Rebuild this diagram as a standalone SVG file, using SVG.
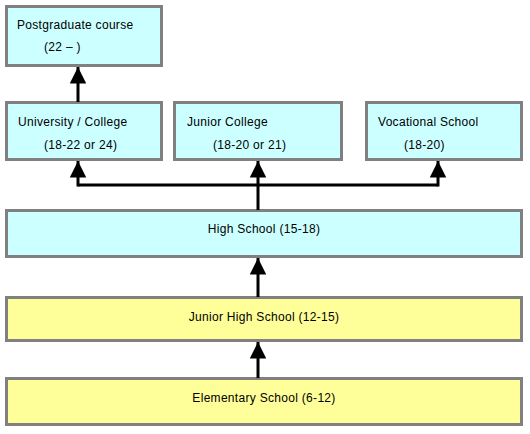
<svg xmlns="http://www.w3.org/2000/svg" width="530" height="434" viewBox="0 0 530 434">
<defs>
<style>
.c{fill:#ccffff;stroke:#808080;stroke-width:3}
.y{fill:#ffff99;stroke:#808080;stroke-width:3}
text{font-family:"Liberation Sans",Arial,sans-serif;font-size:12px;letter-spacing:0.3px;fill:#000}
.m{text-anchor:middle}
.ln{fill:none;stroke:#000;stroke-width:3}
</style>
<marker id="ah" viewBox="0 0 10 10" refX="10" refY="5" markerWidth="5.5" markerHeight="5.5" markerUnits="strokeWidth" orient="auto">
<path d="M0,0 L10,5 L0,10 Z" fill="#000"/>
</marker>
</defs>
<rect width="530" height="434" fill="#fff"/>
<g id="postgrad"><rect class="c" x="6.5" y="6.5" width="155" height="59"/><text x="17" y="29">Postgraduate course</text><text x="44" y="51">(22 – )</text></g>
<g id="university"><rect class="c" x="6.5" y="102.5" width="155" height="57"/><text x="18" y="126">University / College</text><text x="44" y="149">(18-22 or 24)</text></g>
<g id="juniorcollege"><rect class="c" x="174.5" y="102.5" width="167" height="57"/><text x="187" y="126">Junior College</text><text x="213" y="149">(18-20 or 21)</text></g>
<g id="vocational"><rect class="c" x="366.5" y="102.5" width="155" height="57"/><text x="378" y="126">Vocational School</text><text x="404" y="149">(18-20)</text></g>
<g id="highschool"><rect class="c" x="6.5" y="210.5" width="515" height="46"/><text class="m" x="264" y="233">High School (15-18)</text></g>
<g id="juniorhigh"><rect class="y" x="6.5" y="297.5" width="515" height="43"/><text class="m" x="264" y="321">Junior High School (12-15)</text></g>
<g id="elementary"><rect class="y" x="6.5" y="378.5" width="515" height="46"/><text class="m" x="264" y="402">Elementary School (6-12)</text></g>
<g id="connectors">
<path class="ln" d="M78,102 V67" marker-end="url(#ah)"/>
<path class="ln" d="M258,210 V185"/>
<path class="ln" d="M78,185 H438"/>
<path class="ln" d="M78,186.5 V161" marker-end="url(#ah)"/>
<path class="ln" d="M258,185 V161" marker-end="url(#ah)"/>
<path class="ln" d="M438,186.5 V161" marker-end="url(#ah)"/>
<path class="ln" d="M258,297 V258" marker-end="url(#ah)"/>
<path class="ln" d="M258,378 V342" marker-end="url(#ah)"/>
</g>
</svg>
